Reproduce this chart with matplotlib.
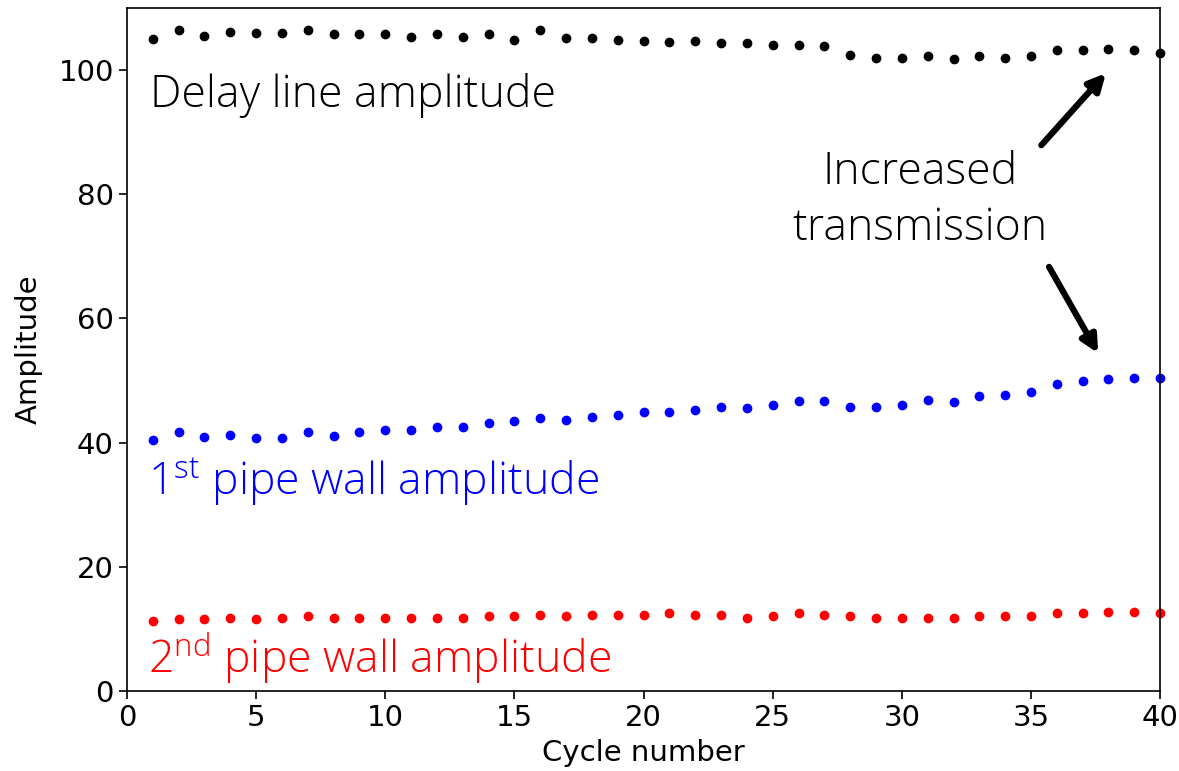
import matplotlib
matplotlib.use("Agg")
import matplotlib.pyplot as plt
import numpy as np

plt.rcParams['mathtext.fontset'] = 'custom'
plt.rcParams['mathtext.rm'] = 'Open Sans:light'
plt.rcParams['mathtext.it'] = 'Open Sans:italic:light'

# numero de ciclo
cycle = np.arange(1, 41)

# amplitud linea de retardo
delay_line = [105.0, 106.4, 105.5, 106.2, 105.9, 105.9, 106.4, 105.8, 105.8, 105.8,
              105.4, 105.8, 105.4, 105.8, 104.8, 106.4, 105.1, 105.1, 104.8, 104.7,
              104.6, 104.7, 104.3, 104.3, 104.1, 104.1, 103.9, 102.5, 102.0, 102.0,
              102.3, 101.8, 102.3, 102.0, 102.3, 103.2, 103.2, 103.4, 103.2, 102.8]

# amplitud primera pared
wall_1 = [40.5, 41.7, 40.9, 41.2, 40.7, 40.7, 41.7, 41.1, 41.7, 42.1,
          42.1, 42.5, 42.5, 43.1, 43.5, 43.9, 43.7, 44.2, 44.4, 44.9,
          44.9, 45.3, 45.8, 45.5, 46.1, 46.7, 46.7, 45.8, 45.8, 46.1,
          46.9, 46.5, 47.5, 47.7, 48.1, 49.5, 49.9, 50.2, 50.4, 50.4]

# amplitud segunda pared
wall_2 = [11.3, 11.6, 11.6, 11.8, 11.6, 11.8, 12.0, 11.8, 11.8, 11.8,
          11.8, 11.8, 11.8, 12.0, 12.0, 12.2, 12.0, 12.2, 12.2, 12.2,
          12.5, 12.2, 12.2, 11.8, 12.0, 12.5, 12.2, 12.0, 11.8, 11.8,
          11.8, 11.8, 12.0, 12.0, 12.0, 12.5, 12.5, 12.7, 12.7, 12.5]

fig = plt.figure(figsize=(11.79, 7.71), dpi=100)
ax = fig.add_axes([0.1077, 0.1038, 0.8763, 0.8858])

ax.plot(cycle, delay_line, 'o', color='black', ms=6, clip_on=False)
ax.plot(cycle, wall_1, 'o', color='blue', ms=6, clip_on=False)
ax.plot(cycle, wall_2, 'o', color='red', ms=6, clip_on=False)

ax.set_xlim(0, 40)
ax.set_ylim(0, 110)
ax.set_xticks([0, 5, 10, 15, 20, 25, 30, 35, 40])
ax.set_yticks([0, 20, 40, 60, 80, 100])
ax.tick_params(labelsize=21, length=6, width=1.2)
for s in ax.spines.values():
    s.set_linewidth(1.2)
ax.set_xlabel('Cycle number', fontsize=21, labelpad=5)
ax.set_ylabel('Amplitude', fontsize=21, labelpad=11)

fnt = dict(family='Open Sans', fontsize=32, fontweight='light')
ax.text(0.9, 94, 'Delay line amplitude', color='black', **fnt)
ax.text(0.8, 31.5, r'1$^{\mathrm{st}}$ pipe wall amplitude', color='blue', **fnt)
ax.text(0.8, 2.9, r'2$^{\mathrm{nd}}$ pipe wall amplitude', color='red', **fnt)
ax.text(30.7, 78.9, 'Increased\ntransmission', ha='center', va='center',
        linespacing=1.35, color='black', **fnt)

arw = dict(arrowstyle='-|>', color='black', lw=4.5, mutation_scale=25,
           shrinkA=0, shrinkB=0)
ax.annotate('', xy=(37.9, 99.5), xytext=(35.4, 87.9), arrowprops=arw)
ax.annotate('', xy=(37.6, 54.4), xytext=(35.7, 68.3), arrowprops=arw)

fig.savefig('out.png', dpi=100)
